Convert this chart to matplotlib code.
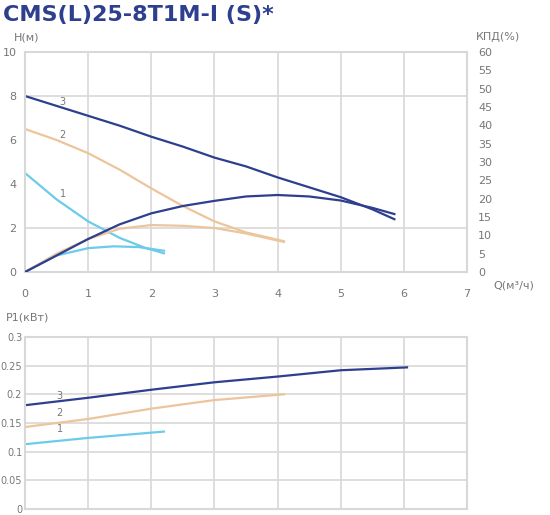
import matplotlib
matplotlib.use('Agg')
import matplotlib.pyplot as plt

NAVY = '#2d3f8e'
TAN = '#ecc59c'
BLUE = '#6ccbea'
GRID = '#d8d8d8'
TXT = '#777777'

# head curves H(Q)
q3_h = [0, 0.5, 1, 1.5, 2, 2.5, 3, 3.5, 4, 4.5, 5, 5.5, 5.85]
h3 = [8, 7.55, 7.1, 6.65, 6.15, 5.7, 5.2, 4.8, 4.3, 3.85, 3.4, 2.85, 2.4]
q2_h = [0, 0.5, 1, 1.5, 2, 2.5, 3, 3.5, 4.1]
h2 = [6.5, 6.0, 5.4, 4.65, 3.8, 3.0, 2.3, 1.8, 1.4]
q1_h = [0, 0.5, 1, 1.5, 1.9, 2.2]
h1 = [4.5, 3.3, 2.3, 1.55, 1.1, 0.85]

# efficiency curves (%)
q3_e = [0, 0.5, 1, 1.5, 2, 2.5, 3, 3.5, 4, 4.5, 5, 5.5, 5.85]
e3 = [0, 4.5, 9, 13, 16, 18, 19.4, 20.6, 21, 20.6, 19.5, 17.5, 15.8]
q2_e = [0, 0.5, 1, 1.5, 2, 2.5, 3, 3.5, 4.1]
e2 = [0, 5, 9, 11.8, 12.8, 12.6, 12, 10.5, 8.2]
q1_e = [0, 0.5, 1, 1.4, 1.8, 2.2]
e1 = [0, 4.5, 6.5, 7, 6.8, 5.8]

# power P1 (kW)
q3_p = [0, 1, 2, 3, 4, 5, 6.05]
p3 = [0.181, 0.194, 0.208, 0.221, 0.231, 0.242, 0.247]
q2_p = [0, 1, 2, 3, 4.1]
p2 = [0.143, 0.157, 0.175, 0.19, 0.20]
q1_p = [0, 1, 2.2]
p1 = [0.113, 0.124, 0.135]

W, H = 550, 515
fig = plt.figure(figsize=(W / 100, H / 100), dpi=100)

def rect(l, t, r, b):
    return [l / W, 1 - b / H, (r - l) / W, (b - t) / H]

def style(ax):
    for s in ax.spines.values():
        s.set_color(GRID)
        s.set_linewidth(1.5)
    ax.tick_params(length=0, labelsize=8, colors=TXT)
    ax.set_xlim(0, 7)
    ax.set_xticks(range(8))
    for x in range(1, 7):
        ax.axvline(x, color=GRID, lw=1.2, zorder=0)

fig.text(0.005, 0.99, 'CMS(L)25-8T1M-I (S)*', fontsize=16, fontweight='heavy',
         color=NAVY, va='top', ha='left')

ax = fig.add_axes(rect(25, 52, 467, 272))
style(ax)
ax.set_ylim(0, 10)
ax.set_yticks(range(0, 11, 2))
for y in (2, 8):
    ax.axhline(y, color=GRID, lw=1.2, zorder=0)
ax.tick_params(axis='x', pad=12)
ax.yaxis.set_tick_params(pad=6)
for qs, hs, c in ((q1_h, h1, BLUE), (q2_h, h2, TAN), (q3_h, h3, NAVY)):
    ax.plot(qs, hs, color=c, lw=1.6)
ax2 = ax.twinx()
ax2.set_ylim(0, 60)
ax2.set_yticks(range(0, 61, 5))
ax2.tick_params(length=0, labelsize=8, colors=TXT, pad=8)
for s in ax2.spines.values():
    s.set_visible(False)
for qs, es, c in ((q1_e, e1, BLUE), (q2_e, e2, TAN), (q3_e, e3, NAVY)):
    ax2.plot(qs, es, color=c, lw=1.6)
ax.text(0.55, 7.6, '3', fontsize=7, color=TXT)
ax.text(0.55, 6.1, '2', fontsize=7, color=TXT)
ax.text(0.55, 3.4, '1', fontsize=7, color=TXT)
fig.text(14 / W, 1 - 37 / H, 'H(м)', fontsize=8, color=TXT, va='center')
fig.text(520 / W, 1 - 37 / H, 'КПД(%)', fontsize=8, color=TXT, va='center', ha='right')
fig.text(493 / W, 1 - 285 / H, 'Q(м³/ч)', fontsize=8, color=TXT, va='center')

bx = fig.add_axes(rect(25, 337, 467, 509))
style(bx)
bx.set_ylim(0, 0.3)
bx.set_yticks([0, 0.05, 0.1, 0.15, 0.2, 0.25, 0.3])
bx.set_yticklabels(['0', '0.05', '0.1', '0.15', '0.2', '0.25', '0.3'])
bx.tick_params(axis='y', labelsize=7, pad=2)
bx.set_xticklabels([])
for y in (0.05, 0.1, 0.15, 0.2, 0.25):
    bx.axhline(y, color=GRID, lw=1.2, zorder=0)
for qs, ps, c in ((q1_p, p1, BLUE), (q2_p, p2, TAN), (q3_p, p3, NAVY)):
    bx.plot(qs, ps, color=c, lw=1.6)
bx.text(0.55, 0.1915, '3', fontsize=7, color=TXT, ha='center')
bx.text(0.55, 0.1625, '2', fontsize=7, color=TXT, ha='center')
bx.text(0.55, 0.1335, '1', fontsize=7, color=TXT, ha='center')
fig.text(6 / W, 1 - 317 / H, 'P1(кВт)', fontsize=8, color=TXT, va='center')

fig.savefig('out.png', dpi=100)
